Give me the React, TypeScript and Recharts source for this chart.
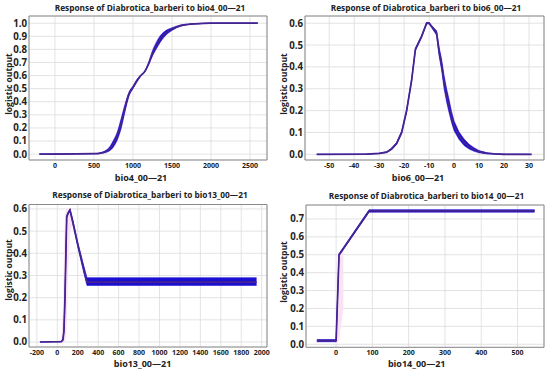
import React from "react";
import {
  ComposedChart,
  Line,
  Area,
  XAxis,
  YAxis,
  CartesianGrid,
  ReferenceArea,
} from "recharts";

// ---------- Panel 1: bio4 ----------
const bio4X = [-200, 500, 600, 650, 700, 750, 800, 850, 900, 950, 1000, 1050, 1100, 1150, 1200, 1250, 1300, 1350, 1400, 1500, 1600, 1700, 1800, 2000, 2600];
const bio4Mean = [0, 0.003, 0.01, 0.02, 0.04, 0.08, 0.14, 0.24, 0.36, 0.46, 0.51, 0.56, 0.6, 0.63, 0.69, 0.77, 0.83, 0.88, 0.915, 0.955, 0.98, 0.99, 0.995, 1.0, 1.0];
const bio4Lo = [0, 0.002, 0.006, 0.012, 0.025, 0.055, 0.11, 0.2, 0.33, 0.445, 0.5, 0.55, 0.595, 0.625, 0.68, 0.75, 0.805, 0.855, 0.895, 0.945, 0.975, 0.988, 0.994, 1.0, 1.0];
const bio4Hi = [0, 0.004, 0.014, 0.028, 0.055, 0.105, 0.17, 0.275, 0.385, 0.475, 0.52, 0.57, 0.605, 0.635, 0.7, 0.79, 0.855, 0.905, 0.935, 0.965, 0.985, 0.993, 0.997, 1.0, 1.0];
const bio4XTicks = [0, 500, 1000, 1500, 2000, 2500];
const bio4YTicks = [0, 0.1, 0.2, 0.3, 0.4, 0.5, 0.6, 0.7, 0.8, 0.9, 1.0];

// ---------- Panel 2: bio6 ----------
const bio6X = [-55, -35, -30, -27, -25, -23, -21, -19, -17, -15.5, -13, -11, -10, -9, -7, -6, -5, -4, -3, -2, -1, 0, 2, 4, 6, 8, 10, 13, 16, 20, 31];
const bio6Mean = [0, 0.001, 0.004, 0.01, 0.025, 0.05, 0.1, 0.2, 0.34, 0.48, 0.54, 0.6, 0.6, 0.585, 0.555, 0.47, 0.41, 0.33, 0.27, 0.22, 0.17, 0.13, 0.085, 0.055, 0.035, 0.022, 0.012, 0.005, 0.002, 0, 0];
const bio6Lo = [0, 0.001, 0.003, 0.008, 0.021, 0.045, 0.094, 0.193, 0.333, 0.474, 0.535, 0.596, 0.597, 0.58, 0.545, 0.45, 0.385, 0.3, 0.24, 0.19, 0.145, 0.108, 0.068, 0.04, 0.024, 0.014, 0.007, 0.002, 0.001, 0, 0];
const bio6Hi = [0, 0.001, 0.005, 0.012, 0.029, 0.055, 0.106, 0.207, 0.347, 0.486, 0.545, 0.604, 0.603, 0.59, 0.565, 0.49, 0.435, 0.36, 0.3, 0.25, 0.195, 0.152, 0.102, 0.07, 0.046, 0.03, 0.017, 0.008, 0.003, 0.001, 0];
const bio6XTicks = [-50, -40, -30, -20, -10, 0, 10, 20, 30];
const bio6YTicks = [0, 0.1, 0.2, 0.3, 0.4, 0.5, 0.6];

// ---------- Panel 3: bio13 ----------
const bio13X = [-170, 40, 55, 65, 75, 85, 92, 105, 124, 150, 200, 250, 290, 1950];
const bio13Mean = [0, 0.002, 0.01, 0.05, 0.2, 0.42, 0.565, 0.58, 0.595, 0.545, 0.44, 0.345, 0.27, 0.27];
const bio13Lo = [0, 0.001, 0.008, 0.045, 0.19, 0.41, 0.56, 0.575, 0.59, 0.535, 0.43, 0.33, 0.255, 0.255];
const bio13Hi = [0, 0.003, 0.012, 0.055, 0.21, 0.43, 0.57, 0.585, 0.6, 0.555, 0.45, 0.36, 0.29, 0.29];
const bio13PinkLo = [null, 0, 0, 0, 0.005, 0.02, 0.08, 0.3, 0.5, 0.52, null, null, null, null];
const bio13PinkHi = [null, 0.02, 0.15, 0.4, 0.56, 0.6, 0.6, 0.6, 0.6, 0.56, null, null, null, null];
const bio13XTicks = [-200, 0, 200, 400, 600, 800, 1000, 1200, 1400, 1600, 1800, 2000];
const bio13YTicks = [0, 0.1, 0.2, 0.3, 0.4, 0.5, 0.6];

// ---------- Panel 4: bio14 ----------
const bio14X = [-53, 0, 8, 20, 91, 547];
const bio14Mean = [0.02, 0.02, 0.5, 0.535, 0.745, 0.745];
const bio14Lo = [0.014, 0.014, 0.494, 0.529, 0.738, 0.738];
const bio14Hi = [0.026, 0.026, 0.506, 0.541, 0.752, 0.752];
const bio14PinkLo = [null, 0, 0.02, 0.2, null, null];
const bio14PinkHi = [null, 0.1, 0.5, 0.54, null, null];
const bio14XTicks = [0, 100, 200, 300, 400, 500];
const bio14YTicks = [0, 0.1, 0.2, 0.3, 0.4, 0.5, 0.6, 0.7];

const FONT = "'Open Sans', 'DejaVu Sans', sans-serif";
const BAND = "#1c0fd4";
const LINE = "#46238f";
const PINK = "#fbe1f4";
const TEXT = "#222";

type Row = { x: number; mean: number; band: [number, number]; pink?: [number, number] | null };

function buildRows(
  xs: number[],
  mean: number[],
  lo: number[],
  hi: number[],
  pLo?: (number | null)[],
  pHi?: (number | null)[]
): Row[] {
  return xs.map((x, i) => ({
    x,
    mean: mean[i],
    band: [lo[i], hi[i]] as [number, number],
    pink:
      pLo && pHi && pLo[i] != null && pHi[i] != null
        ? ([pLo[i] as number, pHi[i] as number] as [number, number])
        : null,
  }));
}

type PanelProps = {
  left: number;
  top: number;
  width: number;
  height: number;
  margin: { top: number; right: number; bottom: number; left: number };
  yAxisWidth: number;
  xAxisHeight: number;
  xDomain: [number, number];
  yDomain: [number, number];
  xTicks: number[];
  yTicks: number[];
  rows: Row[];
  curve: "monotone" | "linear";
  hasPink: boolean;
};

function Panel(p: PanelProps) {
  return (
    <div style={{ position: "absolute", left: p.left, top: p.top }}>
      <ComposedChart width={p.width} height={p.height} data={p.rows} margin={p.margin}>
        <CartesianGrid stroke="#dcdcdc" strokeWidth={0.8} />
        <XAxis
          dataKey="x"
          type="number"
          domain={p.xDomain}
          ticks={p.xTicks}
          allowDataOverflow
          height={p.xAxisHeight}
          axisLine={false}
          tickLine={false}
          tickSize={0}
          tickMargin={3}
          interval={0}
          tick={{ fontFamily: FONT, fontWeight: 700, fontSize: 7, fill: TEXT }}
        />
        <YAxis
          type="number"
          domain={p.yDomain}
          ticks={p.yTicks}
          allowDataOverflow
          width={p.yAxisWidth}
          axisLine={false}
          tickLine={false}
          tickSize={0}
          tickMargin={2}
          interval={0}
          tickFormatter={(v: number) => v.toFixed(1)}
          tick={{ fontFamily: FONT, fontWeight: 700, fontSize: 9.7, fill: TEXT }}
        />
        {p.hasPink && (
          <Area
            dataKey="pink"
            type="linear"
            stroke="none"
            fill={PINK}
            fillOpacity={1}
            isAnimationActive={false}
            dot={false}
            activeDot={false}
          />
        )}
        <Area
          dataKey="band"
          type={p.curve}
          stroke={BAND}
          strokeWidth={0.6}
          fill={BAND}
          fillOpacity={1}
          isAnimationActive={false}
          dot={false}
          activeDot={false}
        />
        <Line
          dataKey="mean"
          type={p.curve}
          stroke={LINE}
          strokeWidth={1.7}
          dot={false}
          activeDot={false}
          isAnimationActive={false}
        />
        <ReferenceArea
          x1={p.xDomain[0]}
          x2={p.xDomain[1]}
          y1={p.yDomain[0]}
          y2={p.yDomain[1]}
          fill="none"
          stroke="#8a8a8a"
          strokeWidth={1}
          fillOpacity={0}
        />
      </ComposedChart>
    </div>
  );
}

const titles = [
  { text: "Response of Diabrotica_barberi to bio4_00—21", x: 150, y: 7.5 },
  { text: "Response of Diabrotica_barberi to bio6_00—21", x: 426, y: 7.5 },
  { text: "Response of Diabrotica_barberi to bio13_00—21", x: 150, y: 194 },
  { text: "Response of Diabrotica_barberi to bio14_00—21", x: 426.5, y: 195 },
];
const xLabels = [
  { text: "bio4_00—21", x: 141, y: 177.5 },
  { text: "bio6_00—21", x: 418, y: 177.5 },
  { text: "bio13_00—21", x: 142.5, y: 363.5 },
  { text: "bio14_00—21", x: 416.7, y: 363.5 },
];
const yLabels = [
  { x: 8, y: 84 },
  { x: 283, y: 84 },
  { x: 8, y: 270 },
  { x: 283, y: 272 },
];

export default function App() {
  const rows1 = buildRows(bio4X, bio4Mean, bio4Lo, bio4Hi);
  const rows2 = buildRows(bio6X, bio6Mean, bio6Lo, bio6Hi);
  const rows3 = buildRows(bio13X, bio13Mean, bio13Lo, bio13Hi, bio13PinkLo, bio13PinkHi);
  const rows4 = buildRows(bio14X, bio14Mean, bio14Lo, bio14Hi, bio14PinkLo, bio14PinkHi);
  return (
    <div
      style={{
        position: "absolute",
        left: 0,
        top: 0,
        width: 550,
        height: 375,
        background: "#fff",
        overflow: "hidden",
      }}
    >
      <Panel
        left={0}
        top={0}
        width={275}
        height={187}
        margin={{ top: 16, right: 8, bottom: 0, left: 0 }}
        yAxisWidth={29}
        xAxisHeight={27}
        xDomain={[-333, 2718]}
        yDomain={[-0.045, 1.055]}
        xTicks={bio4XTicks}
        yTicks={bio4YTicks}
        rows={rows1}
        curve="monotone"
        hasPink={false}
      />
      <Panel
        left={275}
        top={0}
        width={275}
        height={187}
        margin={{ top: 16, right: 6, bottom: 0, left: 0 }}
        yAxisWidth={30}
        xAxisHeight={27}
        xDomain={[-59.7, 36]}
        yDomain={[-0.026, 0.633]}
        xTicks={bio6XTicks}
        yTicks={bio6YTicks}
        rows={rows2}
        curve="linear"
        hasPink={false}
      />
      <Panel
        left={0}
        top={187}
        width={275}
        height={188}
        margin={{ top: 17.5, right: 8, bottom: 0, left: 0 }}
        yAxisWidth={29}
        xAxisHeight={28}
        xDomain={[-277, 2052]}
        yDomain={[-0.0225, 0.62]}
        xTicks={bio13XTicks}
        yTicks={bio13YTicks}
        rows={rows3}
        curve="linear"
        hasPink={true}
      />
      <Panel
        left={275}
        top={187}
        width={275}
        height={188}
        margin={{ top: 18, right: 6, bottom: 0, left: 0 }}
        yAxisWidth={31}
        xAxisHeight={27.7}
        xDomain={[-83, 573]}
        yDomain={[-0.017, 0.778]}
        xTicks={bio14XTicks}
        yTicks={bio14YTicks}
        rows={rows4}
        curve="linear"
        hasPink={true}
      />
      <svg
        width={550}
        height={375}
        style={{ position: "absolute", left: 0, top: 0, pointerEvents: "none" }}
      >
        {titles.map((t, i) => (
          <text
            key={"t" + i}
            x={t.x}
            y={t.y}
            textAnchor="middle"
            dominantBaseline="central"
            fontFamily={FONT}
            fontWeight={700}
            fontSize={8.3}
            fill={TEXT}
          >
            {t.text}
          </text>
        ))}
        {xLabels.map((t, i) => (
          <text
            key={"x" + i}
            x={t.x}
            y={t.y}
            textAnchor="middle"
            dominantBaseline="central"
            fontFamily={FONT}
            fontWeight={700}
            fontSize={9}
            fill={TEXT}
          >
            {t.text}
          </text>
        ))}
        {yLabels.map((t, i) => (
          <text
            key={"y" + i}
            x={t.x}
            y={t.y}
            transform={`rotate(-90 ${t.x} ${t.y})`}
            textAnchor="middle"
            dominantBaseline="central"
            fontFamily={FONT}
            fontWeight={700}
            fontSize={8.5}
            fill={TEXT}
          >
            logistic output
          </text>
        ))}
      </svg>
    </div>
  );
}
